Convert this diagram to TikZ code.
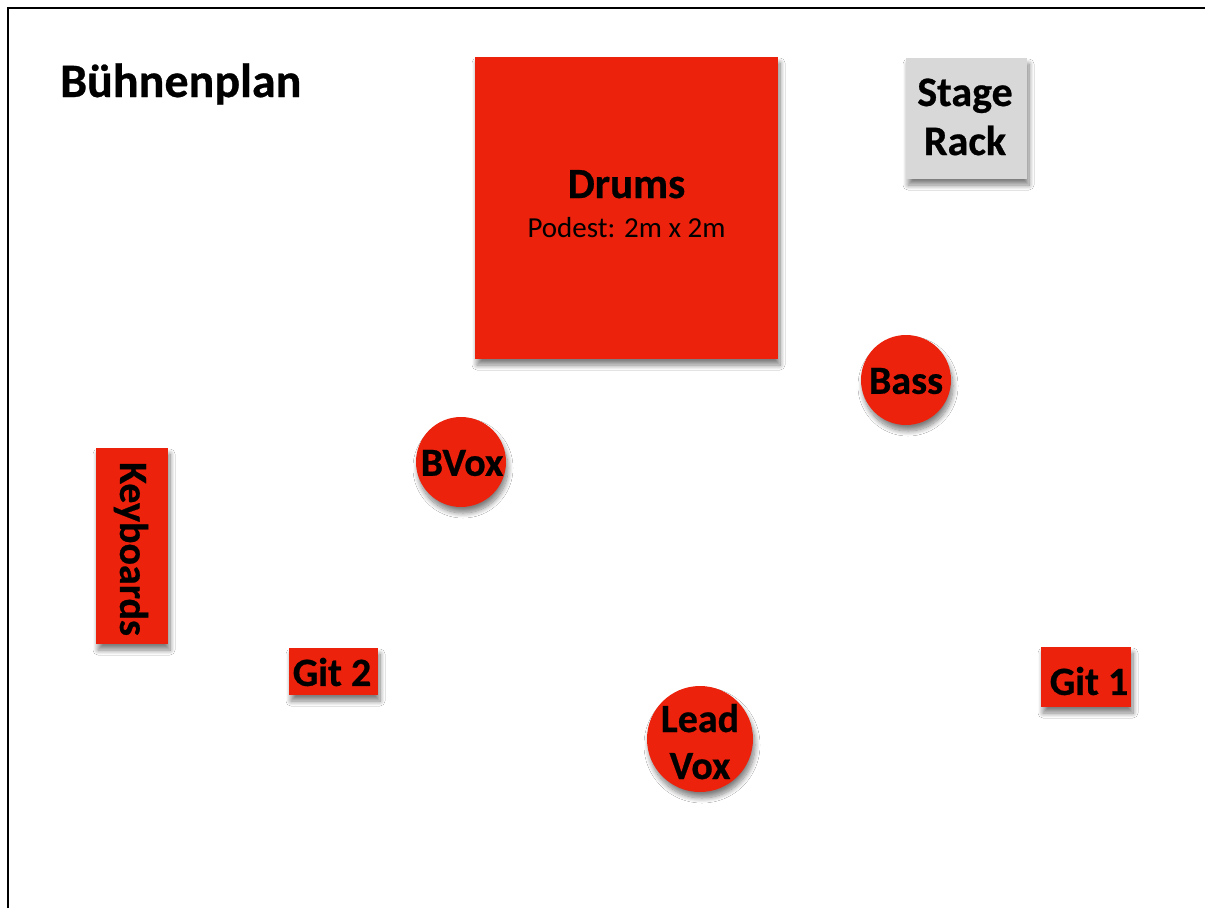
\documentclass[tikz,border=0pt]{standalone}
\usepackage{fontspec}
\setmainfont{Carlito}[BoldFeatures={FakeBold=0.6}]
\usetikzlibrary{shadows.blur}
\definecolor{stagered}{RGB}{237,34,12}
\definecolor{rackgray}{RGB}{216,216,216}
\tikzset{
  shad/.style={blur shadow={shadow xshift=2pt, shadow yshift=-6pt, shadow blur steps=10, shadow blur radius=5pt, shadow opacity=50}},
  redbox/.style={rectangle, fill=stagered, draw=none, inner sep=0pt, shad},
  reddisc/.style={circle, fill=stagered, draw=none, inner sep=0pt, shad},
  graybox/.style={rectangle, fill=rackgray, draw=none, inner sep=0pt, shad},
  lbl/.style={font=\bfseries\fontsize{40}{46}\selectfont, text=black, inner sep=0pt, align=center},
  sub/.style={font=\fontsize{29}{34}\selectfont, text=black, inner sep=0pt},
  frame/.style={line width=2.5pt, draw=black}
}
\begin{document}
\begin{tikzpicture}[x=1pt,y=-1pt]
\useasboundingbox (0,0) rectangle (1205,908);
\fill[white] (0,0) rectangle (1205,908);
\coordinate (fbl) at (8,908);
\coordinate (ftl) at (8,8);
\coordinate (ftr) at (1205,8);
\draw[frame] (fbl) -- (ftl) -- (ftr);
\node[font=\bfseries\fontsize{48}{56}\selectfont, anchor=base west, inner sep=0pt] (title) at (60,97) {Bühnenplan};
% drums
\node[redbox, minimum width=303pt, minimum height=302pt] (drums) at (626.5,208) {};
\node[lbl, font=\bfseries\fontsize{43}{50}\selectfont, anchor=base] (drumst) at (626.5,198) {Drums};
\node[sub, anchor=base] (podest) at (626.5,237) {Podest: 2m x 2m};
% stage rack
\node[graybox, minimum width=121pt, minimum height=121pt] (rack) at (966.5,118.5) {};
\node[lbl, font=\bfseries\fontsize{42}{50}\selectfont, anchor=base] (stage) at (965,106) {Stage};
\node[lbl, font=\bfseries\fontsize{42}{50}\selectfont, anchor=base] (racklbl) at (965,155) {Rack};
% bass
\node[reddisc, minimum size=90pt] (bass) at (906,380) {};
\node[lbl] (basst) at (906,381) {Bass};
% bvox
\node[reddisc, minimum size=90pt] (bvox) at (461,462) {};
\node[lbl] (bvoxt) at (462,463) {BVox};
% keyboards
\node[redbox, minimum width=72pt, minimum height=196pt] (keys) at (132,546) {};
\node[lbl, rotate=-90] (keyst) at (131,549) {Keyboards};
% git 2
\node[redbox, minimum width=89pt, minimum height=47pt] (git2) at (333.5,671.5) {};
\node[lbl] (git2t) at (332,672) {Git 2};
% git 1
\node[redbox, minimum width=90pt, minimum height=60pt] (git1) at (1086,677) {};
\node[lbl] (git1t) at (1089,681) {Git 1};
% lead vox
\node[reddisc, minimum size=106pt] (lead) at (700,739) {};
\node[lbl, anchor=base] (leadt) at (700,732) {Lead};
\node[lbl, anchor=base] (voxt) at (700,779) {Vox};
\end{tikzpicture}
\end{document}
